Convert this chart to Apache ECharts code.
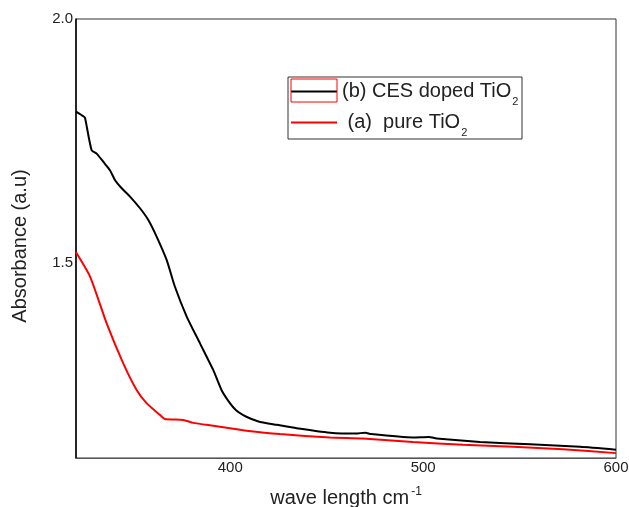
<!DOCTYPE html>
<html>
<head>
<meta charset="utf-8">
<script src="https://cdn.jsdelivr.net/npm/echarts@6/dist/echarts.min.js"></script>
<style>html,body{margin:0;padding:0;background:#fff;}#c{width:629px;height:507px;}</style>
</head>
<body>
<div id="c"></div>
<script>
// Wavelength (x) and absorbance (y) values
const blackX = [320, 324, 324.7, 328.1, 330.7, 334.2, 337.6, 340.2, 343.7, 348, 353.2, 357.5, 361.8, 367, 371.3, 377.4, 384.3, 391.2, 395.5, 399.9, 403, 406.7, 411, 415.4, 424.1, 434.4, 451.7, 465, 470, 473, 494.7, 503, 507, 529.5, 555.4, 581.3, 600];
const blackY = [1.810, 1.800, 1.797, 1.731, 1.724, 1.707, 1.690, 1.670, 1.653, 1.636, 1.612, 1.588, 1.554, 1.506, 1.451, 1.390, 1.335, 1.280, 1.239, 1.212, 1.198, 1.188, 1.180, 1.174, 1.168, 1.161, 1.152, 1.150, 1.152, 1.149, 1.142, 1.143, 1.140, 1.133, 1.128, 1.123, 1.117];
const redX = [320, 327.3, 335.9, 344.5, 351.5, 356.7, 363.6, 366, 375.6, 380.8, 391.2, 398.1, 408.5, 425.8, 451.7, 468.8, 494.7, 520.7, 546.6, 572.5, 600];
const redY = [1.522, 1.472, 1.376, 1.294, 1.239, 1.212, 1.188, 1.180, 1.178, 1.172, 1.166, 1.162, 1.156, 1.149, 1.142, 1.140, 1.133, 1.127, 1.123, 1.118, 1.110];
const seriesNames = ['(b) CES doped TiO2', '(a)  pure TiO2'];
const xTickLabels = [400, 500, 600];
const yTickLabels = [1.5, 2.0];

const chart = echarts.init(document.getElementById('c'), null, {renderer: 'canvas'});
const FONT = '"Liberation Sans", Arial, sans-serif';
const zip = (xs, ys) => xs.map((x, i) => [x, ys[i]]);

chart.setOption({
  animation: false,
  backgroundColor: '#fff',
  grid: {left: 76, top: 19, right: 13, bottom: 49, outerBoundsMode: 'none', containLabel: false,
         show: true, borderColor: '#333', borderWidth: 1},
  xAxis: {
    type: 'value', min: 320, max: 600, interval: 20,
    splitLine: {show: false}, axisTick: {show: false},
    axisLine: {show: true, lineStyle: {color: '#555', width: 1}},
    axisLabel: {
      margin: 2, fontSize: 15, fontFamily: FONT, color: '#222',
      formatter: v => xTickLabels.some(t => Math.abs(t - v) < 1e-6) ? String(v) : ''
    },
    name: 'wave length cm{sup|-1}', nameLocation: 'middle', nameGap: 28,
    nameTextStyle: {
      fontSize: 20, fontFamily: FONT, color: '#222',
      rich: {sup: {fontSize: 12, fontFamily: FONT, color: '#222', verticalAlign: 'top', padding: [0, 0, 12, 2]}}
    }
  },
  yAxis: {
    type: 'value', min: 1.1, max: 2.0, interval: 0.1,
    splitLine: {show: false}, axisTick: {show: false},
    axisLine: {show: true, lineStyle: {color: '#000', width: 1.5}},
    axisLabel: {
      margin: 3, fontSize: 15, fontFamily: FONT, color: '#222',
      formatter: v => yTickLabels.some(t => Math.abs(t - v) < 1e-6) ? v.toFixed(1) : ''
    },
    name: 'Absorbance (a.u)', nameLocation: 'middle', nameGap: 46,
    nameTextStyle: {fontSize: 20, fontFamily: FONT, color: '#222', padding: [0, 0, 0, -15]}
  },
  legend: {
    orient: 'vertical', left: 288, top: 76,
    padding: [0, 2, 0, 3], itemGap: 0,
    itemWidth: 46, itemHeight: 2,
    data: [
      {name: seriesNames[0], icon: 'rect'},
      {name: seriesNames[1], icon: 'rect'}
    ],
    formatter: n => n === seriesNames[0] ? '(b) CES doped TiO{sub|2}' : ' (a)  pure TiO{sub|2}',
    textStyle: {
      fontSize: 20, fontFamily: FONT, color: '#222', lineHeight: 20,
      rich: {sub: {fontSize: 11, lineHeight: 11, fontFamily: FONT, color: '#222', padding: [20, 0, 0, 1]}}
    }
  },
  graphic: [
    {
      type: 'rect', z: 100,
      shape: {x: 288, y: 77, width: 234, height: 62},
      style: {fill: 'none', stroke: '#333', lineWidth: 1}
    },
    {
      type: 'rect', z: 100,
      shape: {x: 291, y: 79, width: 46, height: 23},
      style: {fill: 'none', stroke: '#f00', lineWidth: 1}
    }
  ],
  series: [
    {
      name: seriesNames[0], type: 'line', data: zip(blackX, blackY),
      showSymbol: false, symbol: 'none', smooth: 0.2,
      lineStyle: {color: '#000', width: 2}, itemStyle: {color: '#000'}
    },
    {
      name: seriesNames[1], type: 'line', data: zip(redX, redY),
      showSymbol: false, symbol: 'none', smooth: 0.2,
      lineStyle: {color: '#f00', width: 2}, itemStyle: {color: '#f00'}
    }
  ]
});
</script>
</body>
</html>
